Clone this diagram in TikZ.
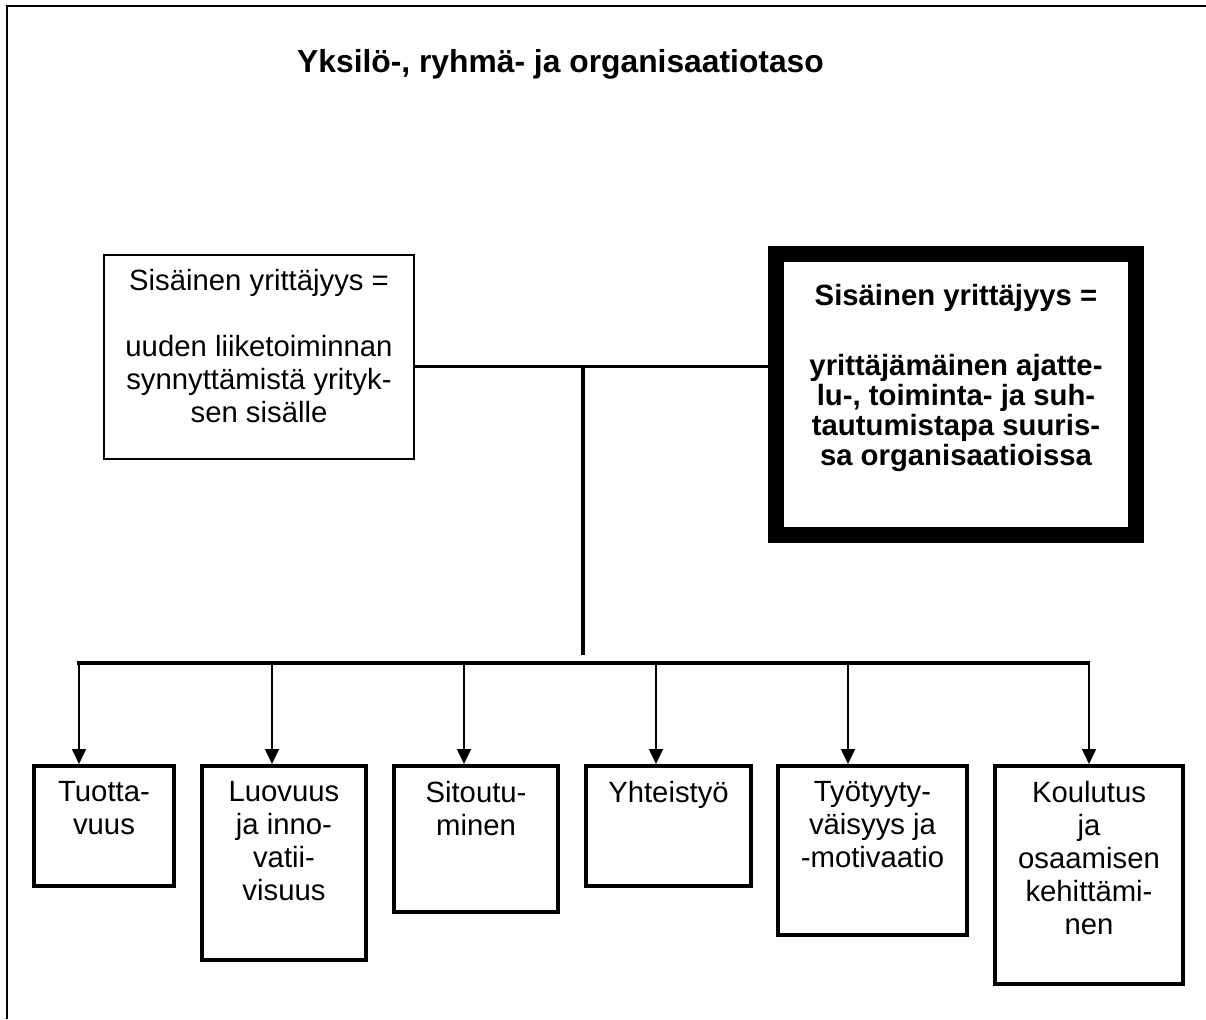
\documentclass[tikz,border=0pt]{standalone}
\usepackage{fontspec}
\setmainfont{Liberation Sans}
\usetikzlibrary{arrows.meta,calc}
\begin{document}
\begin{tikzpicture}[x=1pt,y=-1pt,
  box/.style={draw, rectangle, line width=4pt, outer sep=0pt, inner sep=0pt, anchor=north west},
  lbl/.style={anchor=north, inner sep=0pt, align=center, font={\fontsize{29.3}{33}\selectfont}},
  boldlbl/.style={lbl, font={\fontsize{29.3}{30}\selectfont\bfseries}},
  feed/.style={line width=1.6pt, shorten >=2pt, -{Triangle[width=14pt,length=15pt]}},
  bar/.style={line width=3.5pt},
]
\useasboundingbox (0,0) rectangle (1206,1019);

% page frame: top and left edges
\draw[line width=2pt] (7,1019) -- (7,6) -- (1206,6);

% heading
\node[anchor=base west, inner sep=0pt, font={\fontsize{31.8}{36}\selectfont\bfseries}] (title) at (297,73)
  {Yksilö-, ryhmä- ja organisaatiotaso};

% the two definitions
\node[box, line width=2pt, minimum width=310pt, minimum height=204pt] (lb) at (104,255) {};
\node[lbl] (lbt) at ($(lb.north)+(0,14)$)
  {Sisäinen yrittäjyys =\\[33pt]uuden liiketoiminnan\\synnyttämistä yrityk-\\sen sisälle};

\node[box, line width=16pt, minimum width=360pt, minimum height=281pt] (rb) at (776,254) {};
\node[boldlbl] (rbt) at ($(rb.north)+(0,30)$)
  {Sisäinen yrittäjyys =\\[40pt]yrittäjämäinen ajatte-\\lu-, toiminta- ja suh-\\tautumistapa suuris-\\sa organisaatioissa};

% outcome boxes
\node[box, minimum width=140pt, minimum height=120pt] (b1) at (34,766) {};
\node[box, minimum width=164pt, minimum height=194pt] (b2) at (202,766) {};
\node[box, minimum width=164pt, minimum height=146pt] (b3) at (394,766) {};
\node[box, minimum width=165pt, minimum height=120pt] (b4) at (586,766) {};
\node[box, minimum width=189pt, minimum height=169pt] (b5) at (778,766) {};
\node[box, minimum width=188pt, minimum height=218pt] (b6) at (995,766) {};

\node[lbl] (b1t) at ($(b1.north)+(0,15)$) {Tuotta-\\vuus};
\node[lbl] (b2t) at ($(b2.north)+(0,15)$) {Luovuus\\ja inno-\\vatii-\\visuus};
\node[lbl] (b3t) at ($(b3.north)+(0,15)$) {Sitoutu-\\minen};
\node[lbl] (b4t) at ($(b4.north)+(0,15)$) {Yhteistyö};
\node[lbl] (b5t) at ($(b5.north)+(0,15)$) {Työtyyty-\\väisyys ja\\-motivaatio};
\node[lbl] (b6t) at ($(b6.north)+(0,15)$) {Koulutus\\ja\\osaamisen\\kehittämi-\\nen};

% junction and distribution bus
\coordinate (j) at (583,366);
\coordinate (jend) at (583,655);
\coordinate (k1) at (79,663);
\coordinate (k2) at (272,663);
\coordinate (k3) at (464,663);
\coordinate (k4) at (656,663);
\coordinate (k5) at (848,663);
\coordinate (k6) at (1089,663);

\draw[line width=3pt] (lb.east |- j) -- (rb.west |- j);
\draw[bar] (j) -- (jend);
\draw[bar] ($(k1)+(-1.75,0)$) -- ($(k6)+(1,0)$);

\foreach \i in {1,...,6}
  \draw[feed] (k\i) -- (k\i |- b\i.north);
\end{tikzpicture}
\end{document}
